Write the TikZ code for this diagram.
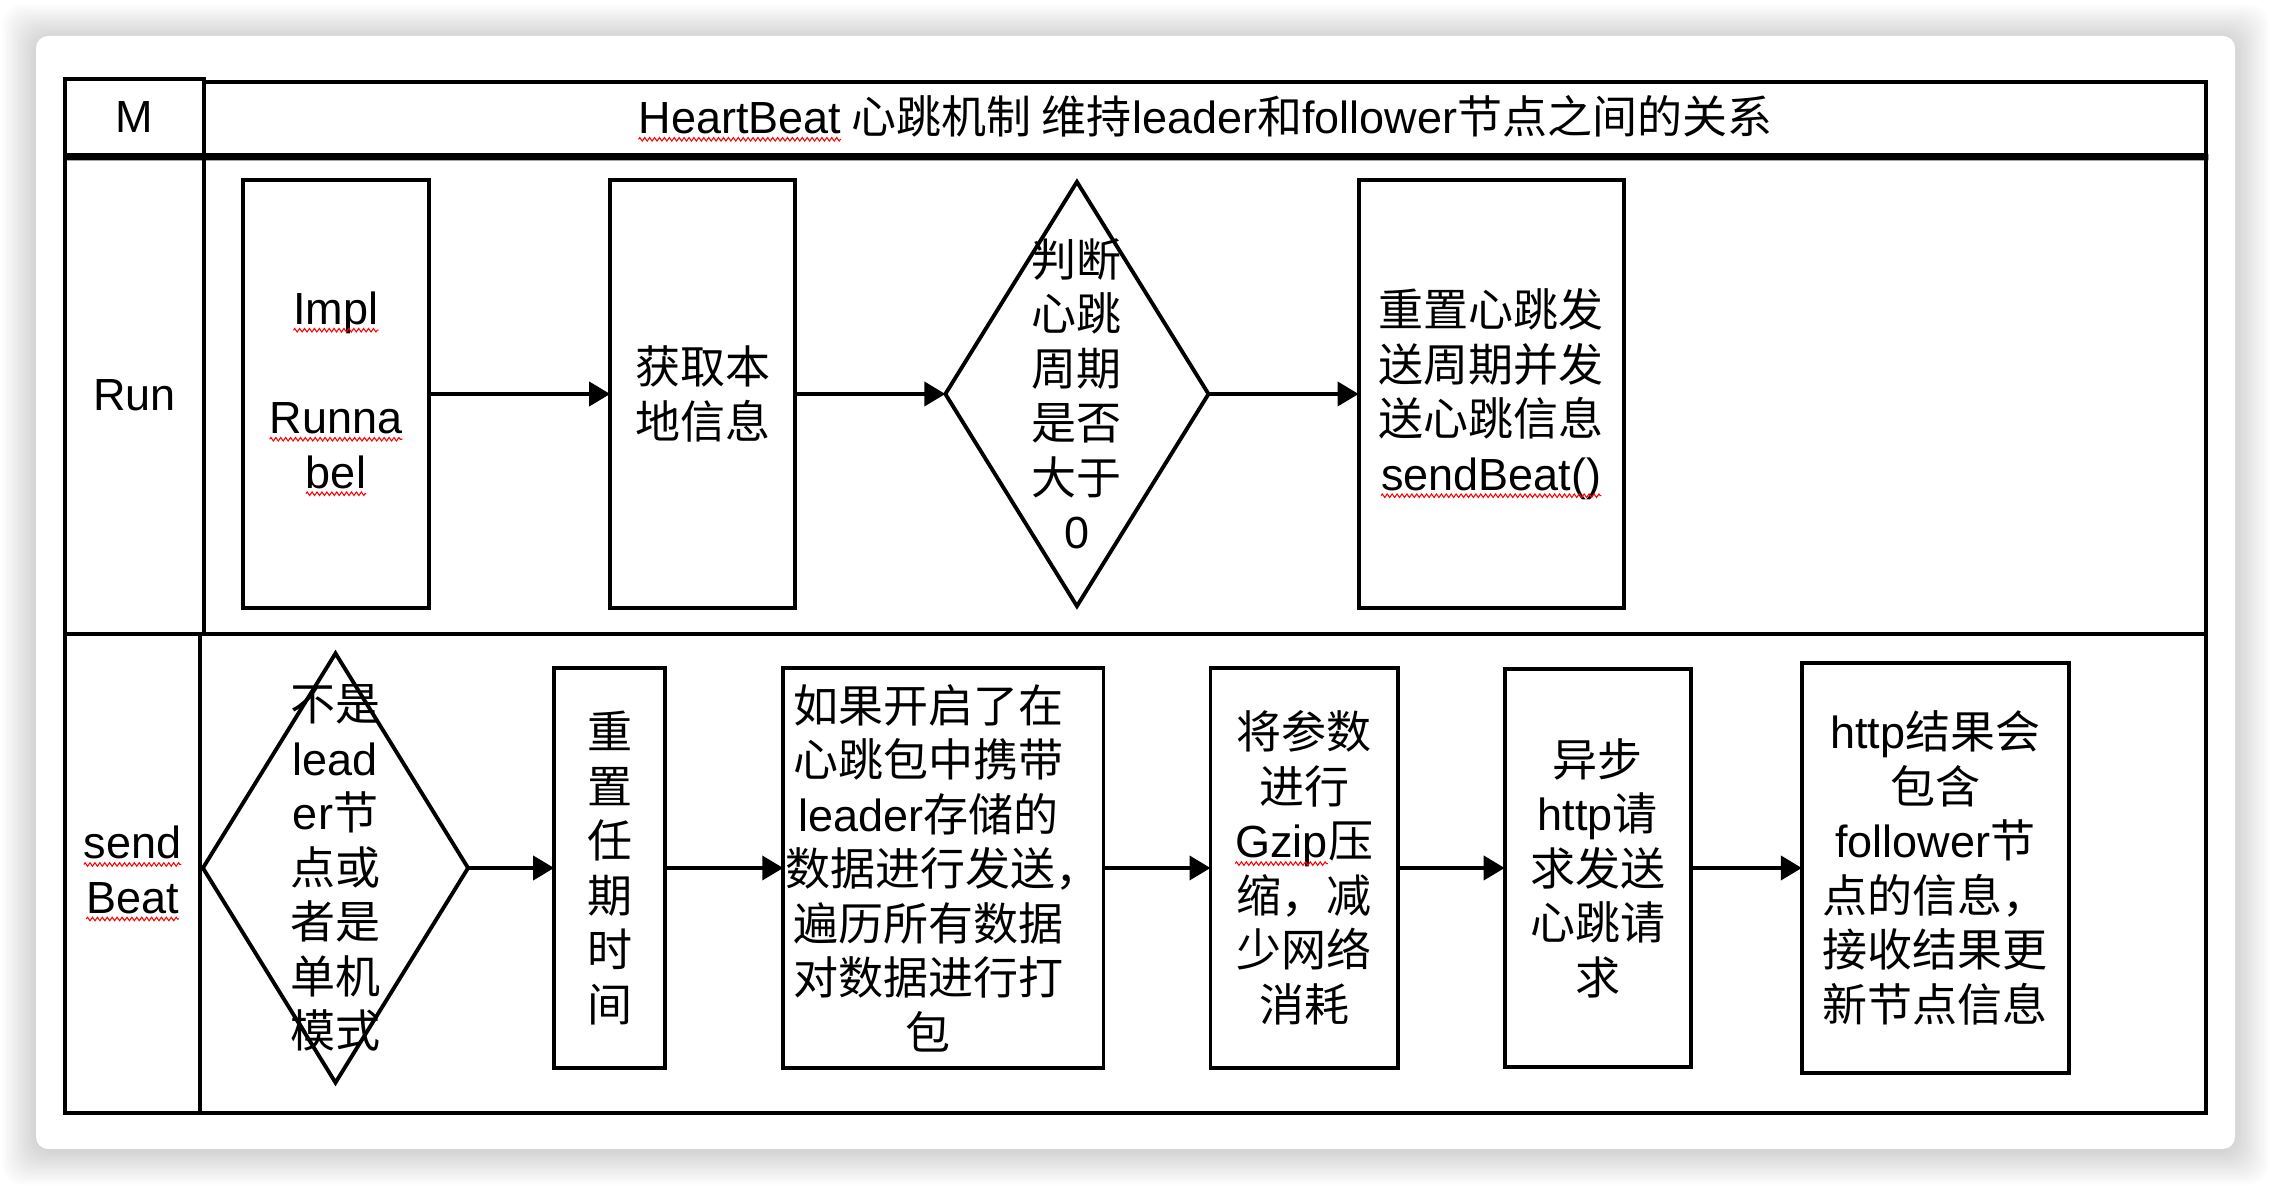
\documentclass[tikz,border=0pt]{standalone}
\usepackage{fontspec}
\setmainfont{Noto Sans CJK SC}
\newfontfamily\latinfont{Liberation Sans}
\usetikzlibrary{shapes.geometric, arrows.meta, positioning, decorations.pathmorphing}

\newcommand{\bodyfont}{\fontsize{12.8pt}{15.5pt}\selectfont}
% red spell-check line under a word
\newcommand{\wavy}[1]{\tikz[baseline=(w.base)]{\node[rectangle, draw=none, fill=none, minimum width=0pt, minimum height=0pt, inner sep=0pt, outer sep=0pt, anchor=base] (w) at (0pt,0pt) {\latinfont #1};
  \draw[red, line width=0.3pt, decorate, decoration={zigzag, amplitude=0.5pt, segment length=1.4pt}] ([yshift=-1.6pt]w.base west) -- ([yshift=-1.6pt]w.base east);}}

\begin{document}
\begin{tikzpicture}[
        x=0.01cm, y=-0.01cm,
        box/.style={rectangle, draw, line width=1.1pt, inner sep=0pt, outer sep=0pt, align=center, font=\bodyfont},
        decision/.style={diamond, draw, line width=1.1pt, inner sep=0pt, outer sep=0pt},
        lane/.style={rectangle, draw, line width=1.2pt, inner sep=0pt, anchor=north west, align=center, font=\bodyfont},
        txt/.style={align=center, inner sep=0pt, font=\bodyfont},
        flow/.style={-{Triangle[length=0.21cm, width=0.24cm]}, line width=1.1pt}
    ]
    \useasboundingbox (0,0) rectangle (2272,1186);

    % card with soft shadow
    \foreach \s in {1,...,14}
        \fill[black, opacity=0.012, rounded corners=0.2cm] ({36-2.4*\s},{38-2.4*\s}) rectangle ({2235+2.4*\s},{1151+2.4*\s});
    \fill[white, rounded corners=0.12cm] (36,36) rectangle (2235,1149);

    % table
    \node[lane, minimum width=1.39cm, minimum height=0.76cm] (mcell) at (63,77) {\latinfont M};
    \node[lane, minimum width=20.01cm, minimum height=0.73cm] (titlecell) at (202,80) {\wavy{HeartBeat} 心跳机制 维持{\latinfont leader}和{\latinfont follower}节点之间的关系};
    \node[lane, minimum width=1.39cm, minimum height=4.79cm] (runlbl) at (63,153) {\latinfont Run};
    \node[lane, minimum width=20.01cm, minimum height=4.79cm] (runlane) at (202,153) {};
    \node[lane, minimum width=1.35cm, minimum height=4.79cm] (sendlbl) at (63,632) {\wavy{send}\\\wavy{Beat}};
    \node[lane, minimum width=20.05cm, minimum height=4.79cm] (sendlane) at (198,632) {};
    \draw[line width=1.8pt] (mcell.south west) -- (titlecell.south east);

    % Run
    \node[box, minimum width=1.86cm, minimum height=4.27cm] (impl) at (336,394) {\wavy{Impl}\\[15.5pt]\wavy{Runna}\\\wavy{bel}};
    \node[box, minimum width=1.85cm, minimum height=4.27cm, right=1.81cm of impl] (info) {获取本\\地信息};
    \node[decision, minimum width=2.63cm, minimum height=4.24cm, right=1.5cm of info] (judge) {};
    \node[txt] (judgetxt) at (judge) {判断\\心跳\\周期\\是否\\大于\\{\latinfont 0}};
    \node[box, minimum width=2.65cm, minimum height=4.27cm, right=1.5cm of judge] (reset) {重置心跳发\\送周期并发\\送心跳信息\\\wavy{sendBeat()}};

    \draw[flow] (impl) -- (info);
    \draw[flow] (info) -- (judge);
    \draw[flow] (judge) -- (reset);

    % sendBeat
    \node[decision, minimum width=2.65cm, minimum height=4.29cm] (leader) at (335.5,868) {};
    \node[txt] (leadertxt) at (leader) {不是\\{\latinfont lead}\\{\latinfont er}节\\点或\\者是\\单机\\模式};
    \node[box, minimum width=1.11cm, minimum height=3.99cm, right=0.86cm of leader] (retime) {重\\置\\任\\期\\时\\间};
    \node[box, minimum width=3.2cm, minimum height=3.99cm, right=1.18cm of retime] (carry) {};
    \node[txt, xshift=-0.15cm] (carrytxt) at (carry) {如果开启了在\\心跳包中携带\\{\latinfont leader}存储的\\\hspace*{8.2pt}数据进行发送，\\遍历所有数据\\对数据进行打\\包};
    \node[box, minimum width=1.87cm, minimum height=3.99cm, right=1.07cm of carry] (gzip) {将参数\\进行\\\wavy{Gzip}压\\缩，减\\少网络\\消耗};
    \node[box, minimum width=1.86cm, minimum height=3.98cm, right=1.07cm of gzip] (async) {异步\\{\latinfont http}请\\求发送\\心跳请\\求};
    \node[box, minimum width=2.67cm, minimum height=4.09cm, right=1.11cm of async] (result) {{\latinfont http}结果会\\包含\\{\latinfont follower}节\\点的信息，\\接收结果更\\新节点信息};

    \draw[flow] (leader) -- (retime);
    \draw[flow] (retime) -- (carry);
    \draw[flow] (carry) -- (gzip);
    \draw[flow] (gzip) -- (async);
    \draw[flow] (async) -- (result);
\end{tikzpicture}
\end{document}
